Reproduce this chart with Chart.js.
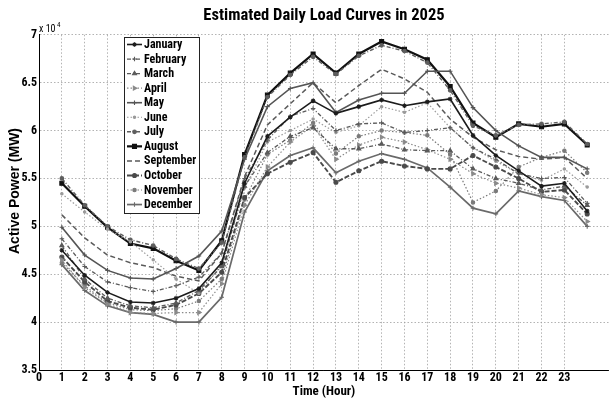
<!DOCTYPE html>
<html>
<head>
<meta charset="utf-8">
<script src="https://cdn.jsdelivr.net/npm/chart.js@4.4.1/dist/chart.umd.min.js"></script>
<style>
  html, body { margin: 0; padding: 0; background: #fff; }
  #wrap { width: 614px; height: 403px; }
</style>
</head>
<body>
<div id="wrap"><canvas id="c" width="614" height="403"></canvas></div>
<script>
// ---- data (Active power, MW) ----
const hours = [1,2,3,4,5,6,7,8,9,10,11,12,13,14,15,16,17,18,19,20,21,22,23,24];
const xTickLabels = [0,1,2,3,4,5,6,7,8,9,10,11,12,13,14,15,16,17,18,19,20,21,22,23];
const yTickValues = [35000,40000,45000,50000,55000,60000,65000,70000];
const months = ["January","February","March","April","May","June","July","August","September","October","November","December"];

const january   = [47500,44900,43100,42100,42000,42500,43500,46200,54500,59400,61400,63100,61800,62500,63200,62600,63000,63300,59500,57400,55800,54200,54500,51600];
const february  = [48700,45800,44200,43600,43200,43800,44700,47200,55000,59000,61500,62300,60000,60700,60800,59800,60000,60300,58200,57000,55500,55000,55100,52400];
const march     = [48000,44500,42500,41700,41500,42000,43300,45800,54200,57700,59400,60300,58100,58100,58600,58000,57900,57900,56000,55000,54500,53800,54200,52200];
const april     = [46500,43600,41900,41000,40900,41000,41000,44000,52200,56200,58800,60500,57000,58500,59300,58800,58000,57000,55500,54500,54000,53300,53000,50500];
const may       = [49900,47000,45400,44600,44500,45600,46900,49500,57000,62500,64400,65000,61900,63200,63900,63900,66200,66200,62400,60000,58400,57200,57200,56000];
const june      = [53400,51500,49700,48400,46500,44500,43000,46000,54000,58800,60000,61200,59800,60500,62500,61900,62900,60300,58200,56800,55500,54800,56000,54100];
const july      = [55000,52200,50000,48600,48000,46600,45600,48300,57200,63500,65800,67700,65900,67800,68900,68300,67100,64200,60500,59500,60600,60700,60900,58600];
const august    = [54500,52100,49900,48200,47700,46400,45400,48500,57500,63700,66000,68000,66000,68000,69300,68500,67400,64600,60800,59300,60700,60400,60700,58500];
const september = [51200,48800,47000,46200,45700,44800,44300,47200,55200,60600,62800,65000,62900,64700,66400,65400,64000,61200,59300,58000,57300,57000,57200,55000];
const october   = [46800,44200,42200,41500,41300,41800,43000,45200,53000,55500,56700,57700,54600,55800,56800,56300,56000,56000,57400,56200,55000,53600,53800,51300];
const november  = [46200,43800,42000,41300,41200,41400,42200,44500,52800,57500,59000,60800,57600,59400,60000,59800,59500,57500,52500,53700,56200,57200,57900,55600];
const december  = [46000,43300,41700,41000,40800,40000,40000,42600,51500,55800,57400,58200,55600,56800,57600,57000,56100,54100,51900,51300,53700,53100,52700,50000];

const seriesValues = [january,february,march,april,may,june,july,august,september,october,november,december];

// ---- styles (grayscale, MATLAB-like) ----
const styles = [
  {color:'#1c1c1c', width:1.6, dash:[],          point:'star',     r:2.3, rot:0},
  {color:'#5a5a5a', width:1.3, dash:[4,2,1,2],   point:'cross',    r:2.3, rot:0},
  {color:'#5a5a5a', width:1.3, dash:[4,2,1,2],   point:'triangle', r:2.3, rot:0},
  {color:'#8a8a8a', width:1.2, dash:[1.5,2],     point:'triangle', r:2.3, rot:90},
  {color:'#555555', width:1.6, dash:[],          point:'cross',    r:2.3, rot:0},
  {color:'#9a9a9a', width:1.2, dash:[1.5,2],     point:'circle',   r:1.2, rot:0},
  {color:'#5e5e5e', width:1.4, dash:[4,2,1,2],   point:'circle',   r:1.8, rot:0},
  {color:'#111111', width:2.2, dash:[],          point:'rect',     r:2.8, rot:0},
  {color:'#5a5a5a', width:1.5, dash:[5,3],       point:false,      r:0,   rot:0},
  {color:'#4a4a4a', width:1.9, dash:[5,2],       point:'circle',   r:2.0, rot:0},
  {color:'#7a7a7a', width:1.2, dash:[1.5,2],     point:'circle',   r:1.7, rot:0},
  {color:'#6a6a6a', width:1.7, dash:[],          point:'cross',    r:2.3, rot:0}
];

const FONT = '"Roboto Condensed", "Liberation Sans", Arial, sans-serif';
Chart.defaults.font.family = FONT;
Chart.defaults.color = '#000';

const datasets = months.map((m, i) => {
  const s = styles[i];
  return {
    label: m,
    data: hours.map((h, k) => ({x: h, y: seriesValues[i][k]})),
    borderColor: s.color,
    backgroundColor: s.color,
    borderWidth: s.width,
    borderDash: s.dash,
    pointStyle: s.point,
    pointRadius: s.r,
    pointRotation: s.rot,
    pointBorderWidth: 1.1,
    pointBorderColor: s.color,
    pointBackgroundColor: s.color,
    tension: 0,
    fill: false
  };
});

// legend box inside plot, y-axis title and x10^4 multiplier
const decor = {
  id: 'decor',
  afterDatasetsDraw(chart) {
    const ctx = chart.ctx;
    const left = 124, top = 37, w = 75, h = 176;
    ctx.save();
    ctx.fillStyle = '#fff';
    ctx.fillRect(left, top, w, h);
    ctx.strokeStyle = '#222';
    ctx.lineWidth = 1;
    ctx.setLineDash([]);
    ctx.strokeRect(left + 0.5, top + 0.5, w, h);
    chart.data.datasets.forEach((ds, i) => {
      const y = 44.5 + i * 14.55;
      ctx.save();
      ctx.strokeStyle = ds.borderColor;
      ctx.lineWidth = ds.borderWidth;
      ctx.setLineDash(ds.borderDash || []);
      ctx.beginPath();
      ctx.moveTo(127, y);
      ctx.lineTo(142, y);
      ctx.stroke();
      ctx.setLineDash([]);
      if (ds.pointStyle) {
        ctx.fillStyle = ds.pointBackgroundColor;
        ctx.strokeStyle = ds.pointBorderColor;
        ctx.lineWidth = 1.1;
        Chart.helpers.drawPoint(ctx, {pointStyle: ds.pointStyle, radius: ds.pointRadius, rotation: ds.pointRotation, borderWidth: 1.1}, 134.5, y);
      }
      ctx.restore();
      ctx.fillStyle = '#000';
      ctx.font = 'bold 12px ' + FONT;
      ctx.textBaseline = 'middle';
      ctx.textAlign = 'left';
      ctx.fillText(ds.label, 144, y + 0.5);
    });
    // multiplier
    ctx.fillStyle = '#000';
    ctx.font = '10px ' + FONT;
    ctx.textBaseline = 'alphabetic';
    ctx.fillText('x 10', 39, 32);
    ctx.font = '7px ' + FONT;
    ctx.fillText('4', 57, 27);
    // y axis title
    ctx.translate(15, 191);
    ctx.rotate(-Math.PI / 2);
    ctx.font = 'bold 14px "Liberation Sans", Arial, sans-serif';
    ctx.textAlign = 'center';
    ctx.textBaseline = 'middle';
    ctx.fillText('Active Power (MW)', 0, 0);
    ctx.restore();
  }
};

new Chart(document.getElementById('c'), {
  type: 'line',
  data: { datasets },
  plugins: [decor],
  options: {
    responsive: false,
    animation: false,
    layout: { padding: { left: 0, right: 0, top: 0, bottom: 0 } },
    plugins: {
      legend: { display: false },
      tooltip: { enabled: false },
      title: {
        display: true,
        fullSize: false,
        text: 'Estimated Daily Load Curves in 2025',
        font: { size: 16.5, weight: 'bold', family: FONT },
        color: '#000',
        padding: { top: 6, bottom: 9 }
      }
    },
    scales: {
      x: {
        type: 'linear',
        min: 0,
        max: 24.95,
        afterBuildTicks(scale) { scale.ticks = xTickLabels.map(v => ({value: v})); },
        afterFit(scale) { scale.height = 33; },
        ticks: {
          autoSkip: false,
          maxRotation: 0,
          padding: 1,
          font: { size: 12, weight: 'bold', family: FONT },
          color: '#000',
          callback: (v) => String(v)
        },
        grid: { display: true, color: '#a0a0a0', lineWidth: 0.8, drawTicks: false },
        border: { display: true, color: '#000', width: 1, dash: [1.5, 2] },
        title: {
          display: true,
          text: 'Time (Hour)',
          font: { size: 13, weight: 'bold', family: FONT },
          color: '#000',
          padding: { top: 0, bottom: 3 }
        }
      },
      y: {
        type: 'linear',
        min: 35000,
        max: 70000,
        afterBuildTicks(scale) { scale.ticks = yTickValues.map(v => ({value: v})); },
        afterFit(scale) { scale.width = 39; },
        ticks: {
          padding: 2,
          font: { size: 12, weight: 'bold', family: FONT },
          color: '#000',
          callback: (v) => String(v / 10000)
        },
        grid: { display: true, color: '#a0a0a0', lineWidth: 0.8, drawTicks: false },
        border: { display: true, color: '#000', width: 1, dash: [1.5, 2] },
        title: { display: false }
      }
    }
  }
});
</script>
</body>
</html>
